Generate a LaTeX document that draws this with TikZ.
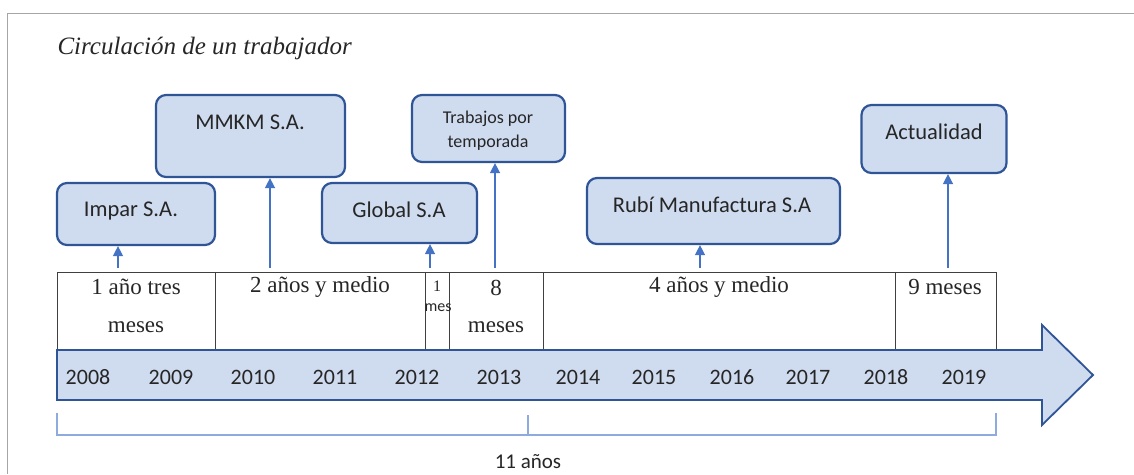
\documentclass[tikz,border=0pt]{standalone}
\usepackage{fontspec}
\setmainfont{Liberation Serif}
\newfontfamily\calibri{Carlito}
\usetikzlibrary{arrows.meta,positioning,calc}
\definecolor{boxFill}{HTML}{CFDBEF}
\definecolor{boxLine}{HTML}{2F5597}
\definecolor{arrLine}{HTML}{4472C4}
\definecolor{brkLine}{HTML}{8FAADC}
\definecolor{frameLine}{HTML}{A6A6A6}
\definecolor{ink}{HTML}{262626}
\tikzset{>={Triangle[length=10pt,width=10pt]},
  upArr/.style={->,draw=arrLine,line width=1.4pt},
  coBox/.style={draw=boxLine,fill=boxFill,line width=2.2pt,rounded corners=10pt,inner sep=0pt},
  coTxt/.style={font=\fontsize{22.5}{24}\selectfont\calibri,text=ink,align=center},
  smallTxt/.style={font=\fontsize{18}{24}\selectfont\calibri,text=ink,align=center},
  cell/.style={draw=black!75,line width=1pt,minimum height=78pt,anchor=north west,inner sep=0pt},
  cellTxt/.style={font=\fontsize{23}{24}\selectfont,text=ink},
  yearTxt/.style={font=\fontsize{22}{24}\selectfont\calibri,text=ink},
  brk/.style={draw=brkLine,line width=1.6pt}}

\begin{document}
\begin{tikzpicture}[x=1pt,y=-1pt]
\useasboundingbox (0,0) rectangle (1134,474);
\draw[frameLine,line width=1pt] (7,474) -- (7,13) -- (1134,13);
\node[anchor=west,font=\fontsize{25}{28}\selectfont\itshape,text=ink] (title) at (54,48) {Circulación de un trabajador};
% companies
\node[coBox,minimum width=158pt,minimum height=62pt] (impar) at (136,214) {};
\node[coTxt] at (131,211) {Impar S.A.};
\node[coBox,minimum width=189pt,minimum height=82pt] (mmkm) at (250.5,136) {};
\node[coTxt] at (250,122) {MMKM S.A.};
\node[coBox,minimum width=155pt,minimum height=60pt] (global) at (399.5,213) {};
\node[coTxt] at (399,210) {Global S.A};
\node[coBox,minimum width=153pt,minimum height=67pt] (temp) at (488.5,128.5) {};
\node[smallTxt] at (488,131) {Trabajos por\\temporada};
\node[coBox,minimum width=253pt,minimum height=66pt] (rubi) at (713.5,211) {};
\node[coTxt] at (712,205) {Rubí Manufactura S.A};
\node[coBox,minimum width=145pt,minimum height=68pt] (actual) at (934,139) {};
\node[coTxt] at (934,132) {Actualidad};
% table of periods
\node[cell,minimum width=158pt] (c1) at (57,272) {};
\node[cell,minimum width=210pt] (c2) at (215,272) {};
\node[cell,minimum width=24pt] (c3) at (425,272) {};
\node[cell,minimum width=94pt] (c4) at (449,272) {};
\node[cell,minimum width=352pt] (c5) at (543,272) {};
\node[cell,minimum width=101pt] (c6) at (895,272) {};
\node[cellTxt] at (136,287) {1 año tres};
\node[cellTxt] at (136,327) {meses};
\node[cellTxt] at (320,287) {2 años y medio};
\node[font=\fontsize{16}{16}\selectfont,text=ink] at (437,286) {1};
\node[font=\fontsize{16}{16}\selectfont\calibri,text=ink] at (438,308) {mes};
\node[cellTxt] at (496,288) {8};
\node[cellTxt] at (496,327) {meses};
\node[cellTxt] at (719,287) {4 años y medio};
\node[cellTxt] at (945,287) {9 meses};
% time band
\draw[boxLine,fill=boxFill,line width=1.8pt,line join=miter]
  (57,350) -- (1042,350) -- (1042,325) -- (1093,375) -- (1042,425) -- (1042,400) -- (57,400) -- cycle;
\foreach \yr/\xx in {2008/88,2009/171,2010/253,2011/335,2012/417,2013/499,
  2014/578,2015/654,2016/732,2017/808,2018/886,2019/964}
  \node[yearTxt] (y\yr) at (\xx,377) {\yr};
% arrows up to the companies
\coordinate (aImpar) at (118,268);
\coordinate (aMmkm) at (270,268);
\coordinate (aGlobal) at (430,268);
\coordinate (aTemp) at (495,268);
\coordinate (aRubi) at (700,268);
\coordinate (aActual) at (948,268);
\draw[upArr] (aImpar) -- (aImpar |- impar.south);
\draw[upArr] (aMmkm) -- (aMmkm |- mmkm.south);
\draw[upArr] (aGlobal) -- (aGlobal |- global.south);
\draw[upArr] (aTemp) -- (aTemp |- temp.south);
\draw[upArr] (aRubi) -- (aRubi |- rubi.south);
\draw[upArr] (aActual) -- (aActual |- actual.south);
% total span
\coordinate (bL) at (57,413);
\coordinate (bM) at (528,415);
\coordinate (bR) at (996,413);
\draw[brk] (bL) -- ++(0,22) -| (bR);
\draw[brk] (bM) -- ++(0,20);
\node[coTxt,font=\fontsize{21}{24}\selectfont\calibri] (total) at (528,462) {11 años};
\end{tikzpicture}
\end{document}
